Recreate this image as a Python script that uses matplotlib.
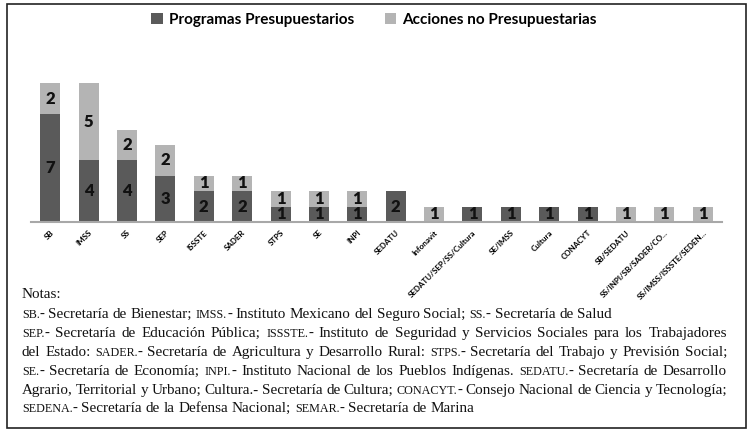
import matplotlib
matplotlib.use("Agg")
import matplotlib.pyplot as plt
import numpy as np
from matplotlib.patches import Rectangle

categories = ["SB", "IMSS", "SS", "SEP", "ISSSTE", "SADER", "STPS", "SE", "INPI",
              "SEDATU", "Infonavit", "SEDATU/SEP/SS/Cultura", "SE/IMSS", "Cultura",
              "CONACYT", "SB/SEDATU", "SS/INPI/SB/SADER/CO...", "SS/IMSS/ISSSTE/SEDEN..."]
programas = [7, 4, 4, 3, 2, 2, 1, 1, 1, 2, 0, 1, 1, 1, 1, 0, 0, 0]
acciones = [2, 5, 2, 2, 1, 1, 1, 1, 1, 0, 1, 0, 0, 0, 0, 1, 1, 1]
series_names = ["Programas Presupuestarios", "Acciones no Presupuestarias"]

dark = "#5a5a5a"
light = "#b4b4b4"
W, H = 754, 438
fig = plt.figure(figsize=(W / 100, H / 100), dpi=100)

# outer frame
fig.add_artist(Rectangle((7 / W, 1 - 428 / H), (746 - 7) / W, (428 - 4) / H,
                         transform=fig.transFigure, fill=False, edgecolor="#222222",
                         linewidth=1.2))

ax_left, ax_right = 31, 722
ax_top, ax_bot = 40, 222
ax = fig.add_axes([ax_left / W, 1 - ax_bot / H, (ax_right - ax_left) / W, (ax_bot - ax_top) / H])
x = np.arange(len(categories))
bw = 0.52
p = np.array(programas)
a = np.array(acciones)
b1 = ax.bar(x, p, bw, color=dark, label=series_names[0], zorder=2)
b2 = ax.bar(x, a, bw, bottom=p, color=light, label=series_names[1], zorder=2)

lab_font = dict(family=["Lato", "DejaVu Sans"], fontweight="heavy", fontsize=12, color="#111111")
for i in range(len(categories)):
    if p[i] > 0:
        ax.text(x[i], p[i] / 2, str(p[i]), ha="center", va="center", **lab_font)
    if a[i] > 0:
        ax.text(x[i], p[i] + a[i] / 2, str(a[i]), ha="center", va="center", **lab_font)

ax.set_xlim(-0.5, len(categories) - 0.5)
ax.set_ylim(0, (ax_bot - ax_top) / 15.4)
for s in ["top", "right", "left"]:
    ax.spines[s].set_visible(False)
ax.spines["bottom"].set_color("#a8a8a8")
ax.spines["bottom"].set_linewidth(1.5)
ax.set_yticks([])
ax.set_xticks(x)
ax.set_xticklabels(categories, rotation=45, ha="right", va="top", rotation_mode="anchor",
                   fontsize=5.8, fontweight="bold", family=["Lato", "DejaVu Sans"])
ax.tick_params(axis="x", length=0, pad=5)

leg = fig.legend(handles=[b1, b2], labels=series_names, loc="center",
                 bbox_to_anchor=(374 / W, 1 - 20 / H), ncol=2, frameon=False,
                 handlelength=0.75, handleheight=0.75, handletextpad=0.4,
                 columnspacing=2.0, prop=dict(family="Lato", weight="bold", size=11))

# Notes with small caps emulation
notes_font = "Liberation Serif"
base = 10.9
sc = base * 0.8
lines = [
    [("Notas:", "n")],
    [("SB.", "s"), ("- Secretaría de Bienestar; ", "n"), ("IMSS.", "s"),
     ("- Instituto Mexicano del Seguro Social; ", "n"), ("SS.", "s"), ("- Secretaría de Salud", "n")],
    [("SEP.", "s"), ("- Secretaría de Educación Pública; ", "n"), ("ISSSTE.", "s"),
     ("- Instituto de Seguridad y Servicios Sociales para los Trabajadores", "n")],
    [("del Estado: ", "n"), ("SADER.", "s"), ("- Secretaría de Agricultura y Desarrollo Rural: ", "n"),
     ("STPS.", "s"), ("- Secretaría del Trabajo y Previsión Social;", "n")],
    [("SE.", "s"), ("- Secretaría de Economía; ", "n"), ("INPI.", "s"),
     ("- Instituto Nacional de los Pueblos Indígenas. ", "n"), ("SEDATU.", "s"),
     ("- Secretaría de Desarrollo", "n")],
    [("Agrario, Territorial y Urbano; Cultura.- Secretaría de Cultura; ", "n"), ("CONACYT.", "s"),
     ("- Consejo Nacional de Ciencia y Tecnología;", "n")],
    [("SEDENA.", "s"), ("- Secretaría de la Defensa Nacional; ", "n"), ("SEMAR.", "s"),
     ("- Secretaría de Marina", "n")],
]
justify = [False, False, True, True, True, True, False]
renderer = fig.canvas.get_renderer()
x0 = 22
right = 727
ys = [298, 318, 337, 356, 375, 394, 412]

# measure a normal space
tmp = fig.text(0, 0, "a a", fontsize=base, family=notes_font)
tmp2 = fig.text(0, 0, "aa", fontsize=base, family=notes_font)
space_w = tmp.get_window_extent(renderer).width - tmp2.get_window_extent(renderer).width
tmp.remove()
tmp2.remove()

for li, (segs, y) in enumerate(zip(lines, ys)):
    chunks = []
    for s, kind in segs:
        size = sc if kind == "s" else base
        parts = s.split(" ")
        for k, w in enumerate(parts):
            if w == "":
                if chunks:
                    chunks[-1][2] = True
                continue
            chunks.append([w, size, k < len(parts) - 1])
    if chunks:
        chunks[-1][2] = False
    arts = []
    widths = []
    for w, size, _ in chunks:
        t = fig.text(0, 1 - y / H, w, fontsize=size, family=notes_font,
                     va="baseline", ha="left", color="#111111")
        arts.append(t)
        widths.append(t.get_window_extent(renderer).width)
    ngaps = sum(1 for c in chunks if c[2])
    natural = sum(widths) + ngaps * space_w
    gap = space_w
    if justify[li] and ngaps > 0:
        gap = space_w + (right - x0 - natural) / ngaps
    cur = x0
    for t, wdt, c in zip(arts, widths, chunks):
        t.set_x(cur / W)
        cur += wdt + (gap if c[2] else 0)

fig.savefig("out.png", dpi=100)
